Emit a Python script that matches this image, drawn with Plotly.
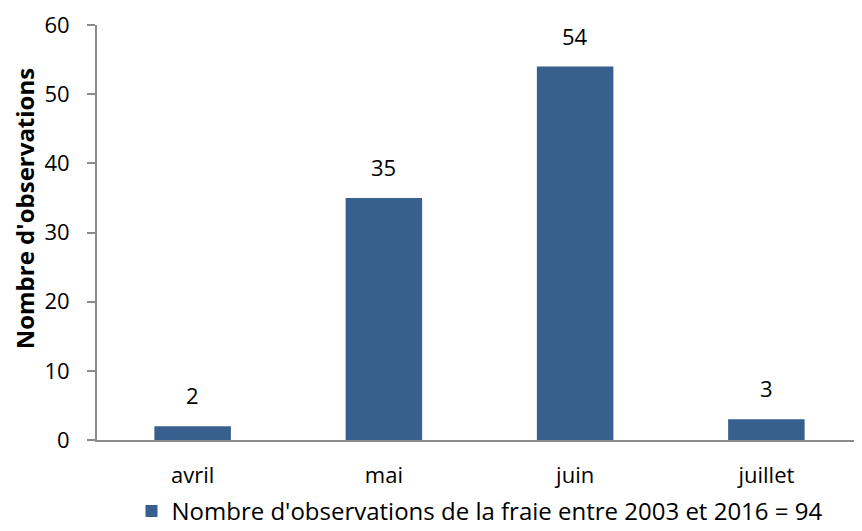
import plotly.graph_objects as go

months = ["avril", "mai", "juin", "juillet"]
observations = [2, 35, 54, 3]
series_name = "Nombre d'observations de la fraie entre 2003 et 2016 = 94"
y_title = "Nombre d'observations"
y_ticks = [0, 10, 20, 30, 40, 50, 60]

FONT = "Open Sans, sans-serif"
BAR_COLOR = "#38608F"
AXIS_COLOR = "#8c8c8c"

fig = go.Figure()
fig.add_trace(go.Bar(
    x=months, y=observations, name=series_name,
    marker=dict(color=BAR_COLOR, line=dict(width=0)),
))

for m, v in zip(months, observations):
    fig.add_annotation(x=m, y=v, text=str(v), showarrow=False, yanchor="bottom",
                       yshift=14, font=dict(size=22, family=FONT, color="#000000"))

# y-axis title placed like the reference (slightly above the plot centre)
fig.add_annotation(xref="paper", yref="paper", x=-0.095, y=0.559, text=y_title,
                   textangle=-90, showarrow=False, xanchor="center", yanchor="middle",
                   font=dict(size=24, family=FONT, weight="bold", color="#000000"))

fig.update_layout(
    width=854, height=523,
    margin=dict(l=89, r=0, t=17, b=91, autoexpand=False),
    paper_bgcolor="white", plot_bgcolor="white",
    font=dict(family=FONT, size=22, color="#000000"),
    bargap=0.6,
    showlegend=True,
    legend=dict(orientation="h", x=0.5, xanchor="center", y=-0.172, yanchor="middle",
                font=dict(size=24, family=FONT)),
    xaxis=dict(showline=True, linecolor=AXIS_COLOR, linewidth=2, ticks="",
               showgrid=False, tickfont=dict(size=22), ticklabelstandoff=15),
    yaxis=dict(range=[0, 60], tickvals=y_ticks, showline=True, linecolor=AXIS_COLOR,
               linewidth=2, ticks="outside", ticklen=8, tickcolor=AXIS_COLOR, tickwidth=2,
               showgrid=False, zeroline=False, tickfont=dict(size=22),
               ticklabelstandoff=13),
)

fig.write_html("out.html")
